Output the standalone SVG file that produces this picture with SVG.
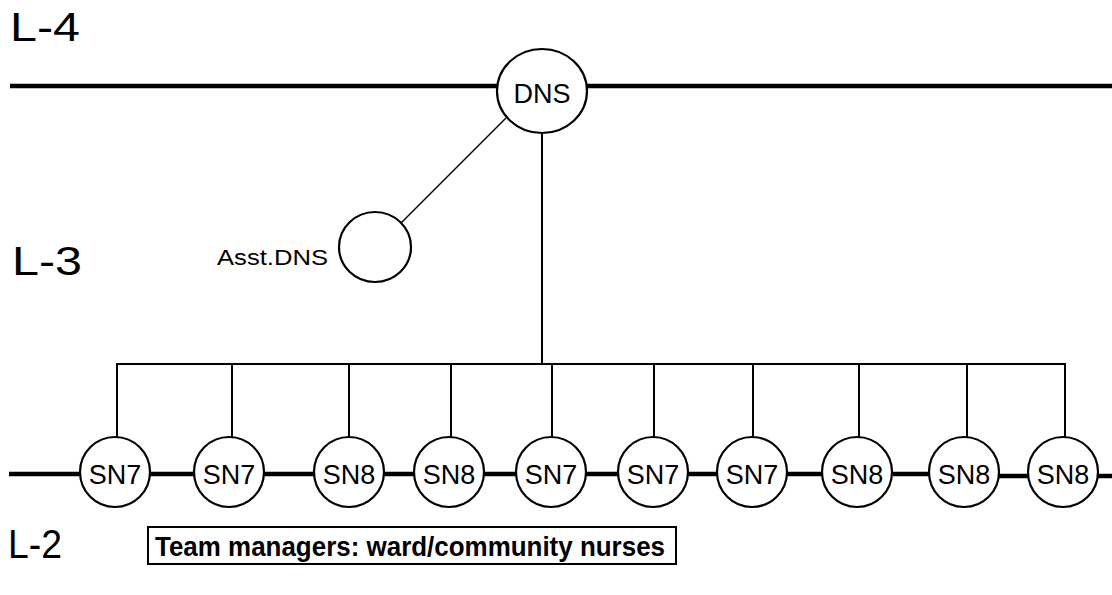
<svg xmlns="http://www.w3.org/2000/svg" width="1112" height="595" viewBox="0 0 1112 595">
<style>
.lvl{font-family:"Liberation Sans",Arial,sans-serif;font-size:40px;fill:#000}
.nd{fill:#fff;stroke:#000;stroke-width:2.2}
.nt{font-family:"Liberation Sans",Arial,sans-serif;font-size:27px;fill:#000;text-anchor:middle}
.thick{stroke:#000;stroke-width:4.5;fill:none}
.thin{stroke:#000;stroke-width:2;fill:none}
.diag{stroke:#000;stroke-width:1.5;fill:none}
</style>
<rect width="1112" height="595" fill="#fff"/>
<text class="lvl" x="10" y="41" textLength="70" lengthAdjust="spacingAndGlyphs">L-4</text>
<text class="lvl" x="12" y="275" textLength="70" lengthAdjust="spacingAndGlyphs">L-3</text>
<text class="lvl" x="8" y="558" font-size="37" textLength="54" lengthAdjust="spacingAndGlyphs">L-2</text>
<g id="connectors">
<line class="thick" x1="10" y1="86" x2="497" y2="86"/>
<line class="thick" x1="587" y1="86" x2="1112" y2="86"/>
<line class="diag" x1="506" y1="118" x2="401" y2="223"/>
<line class="thin" x1="542" y1="133" x2="542" y2="364"/>
<polyline class="thin" points="117,438 117,364 1065,364 1065,438"/>
<line class="thin" x1="232" y1="364" x2="232" y2="438"/>
<line class="thin" x1="349" y1="364" x2="349" y2="438"/>
<line class="thin" x1="451" y1="364" x2="451" y2="438"/>
<line class="thin" x1="552" y1="364" x2="552" y2="438"/>
<line class="thin" x1="654" y1="364" x2="654" y2="438"/>
<line class="thin" x1="753" y1="364" x2="753" y2="438"/>
<line class="thin" x1="859" y1="364" x2="859" y2="438"/>
<line class="thin" x1="967" y1="364" x2="967" y2="438"/>
<polyline class="thick" points="9,474 80,474"/>
<line class="thick" x1="150" y1="474" x2="194" y2="474"/>
<line class="thick" x1="264" y1="474" x2="314" y2="474"/>
<line class="thick" x1="384" y1="474" x2="415" y2="474"/>
<line class="thick" x1="484" y1="474" x2="516" y2="474"/>
<line class="thick" x1="586" y1="474" x2="618" y2="474"/>
<line class="thick" x1="688" y1="474" x2="717" y2="474"/>
<line class="thick" x1="787" y1="474" x2="822" y2="474"/>
<line class="thick" x1="893" y1="474" x2="930" y2="474"/>
<line class="thick" x1="999" y1="476" x2="1028" y2="476"/>
<line class="thick" x1="1098" y1="476" x2="1112" y2="476"/>
</g>
<g id="dns">
<ellipse class="nd" cx="542" cy="91" rx="45" ry="42"/>
<text class="nt" x="542" y="103">DNS</text>
</g>
<g id="asst-dns">
<ellipse class="nd" cx="375" cy="247" rx="36" ry="35"/>
<text x="217" y="265" font-family="'Liberation Sans',Arial,sans-serif" font-size="22" textLength="111" lengthAdjust="spacingAndGlyphs">Asst.DNS</text>
</g>
<g id="sn1"><circle class="nd" cx="115" cy="472" r="35"/><text class="nt" x="115" y="484">SN7</text></g>
<g id="sn2"><circle class="nd" cx="229" cy="472" r="35"/><text class="nt" x="229" y="484">SN7</text></g>
<g id="sn3"><circle class="nd" cx="349" cy="472" r="35"/><text class="nt" x="349" y="484">SN8</text></g>
<g id="sn4"><circle class="nd" cx="449" cy="472" r="35"/><text class="nt" x="449" y="484">SN8</text></g>
<g id="sn5"><circle class="nd" cx="551" cy="472" r="35"/><text class="nt" x="551" y="484">SN7</text></g>
<g id="sn6"><circle class="nd" cx="653" cy="472" r="35"/><text class="nt" x="653" y="484">SN7</text></g>
<g id="sn7"><circle class="nd" cx="752" cy="472" r="35"/><text class="nt" x="752" y="484">SN7</text></g>
<g id="sn8"><circle class="nd" cx="857" cy="472" r="35"/><text class="nt" x="857" y="484">SN8</text></g>
<g id="sn9"><circle class="nd" cx="964" cy="472" r="35"/><text class="nt" x="964" y="484">SN8</text></g>
<g id="sn10"><circle class="nd" cx="1063" cy="472" r="35"/><text class="nt" x="1063" y="484">SN8</text></g>
<g id="caption">
<rect x="148" y="527" width="528" height="37" fill="#fff" stroke="#000" stroke-width="2"/>
<text x="155" y="556" font-family="'Liberation Sans',Arial,sans-serif" font-size="27" font-weight="bold" textLength="510" lengthAdjust="spacingAndGlyphs">Team managers: ward/community nurses</text>
</g>
</svg>
